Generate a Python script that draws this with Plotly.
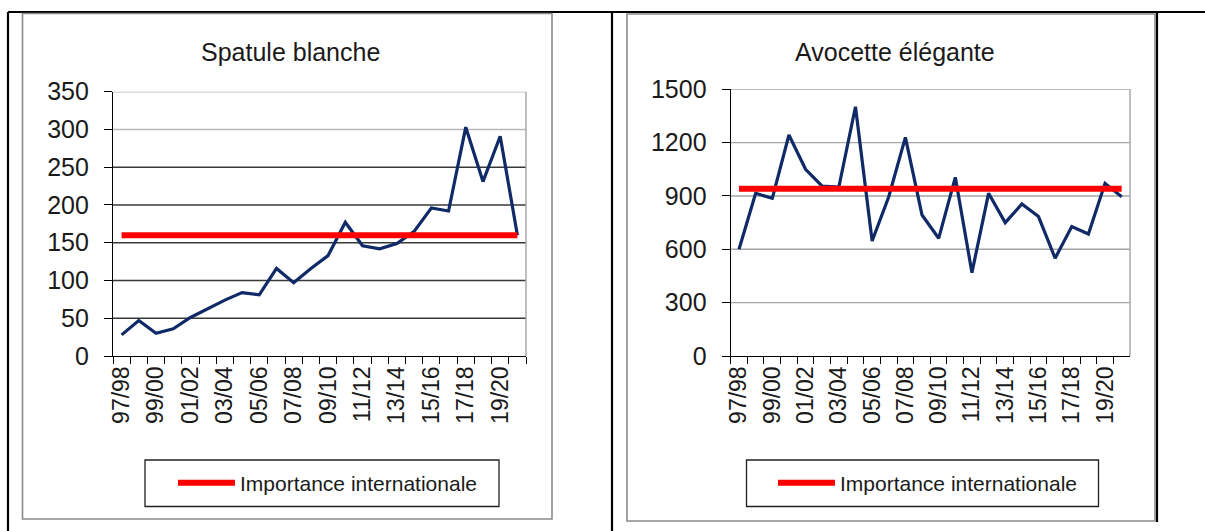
import plotly.graph_objects as go

# ---------------- data ----------------
seasons = ['97/98', '98/99', '99/00', '00/01', '01/02', '02/03', '03/04', '04/05',
           '05/06', '06/07', '07/08', '08/09', '09/10', '10/11', '11/12', '12/13',
           '13/14', '14/15', '15/16', '16/17', '17/18', '18/19', '19/20', '20/21']
tick_labels = ['97/98', '', '99/00', '', '01/02', '', '03/04', '', '05/06', '', '07/08', '',
               '09/10', '', '11/12', '', '13/14', '', '15/16', '', '17/18', '', '19/20', '']

spatule = [28, 47, 30, 36, 51, 63, 74, 84, 81, 116, 97, 116,
           133, 177, 146, 142, 149, 165, 196, 192, 303, 231, 291, 160]
spatule_seuil = [160, 160, 160, 160, 160, 160, 160, 160, 160, 160, 160, 160,
                 160, 160, 160, 160, 160, 160, 160, 160, 160, 160, 160, 160]

avocette = [600, 915, 887, 1243, 1050, 955, 950, 1402, 647, 896, 1230, 793,
            662, 1005, 469, 915, 750, 855, 784, 550, 728, 686, 971, 896]
avocette_seuil = [940, 940, 940, 940, 940, 940, 940, 940, 940, 940, 940, 940,
                  940, 940, 940, 940, 940, 940, 940, 940, 940, 940, 940, 940]

spatule_yticks = [0, 50, 100, 150, 200, 250, 300, 350]
avocette_yticks = [0, 300, 600, 900, 1200, 1500]

titles = ['Spatule blanche', 'Avocette élégante']
legend_name = 'Importance internationale'

# ---------------- style ----------------
W, H = 1205, 531
FONT = 'Arial, Liberation Sans, sans-serif'
TXT = '#1a1a1a'
NAVY = '#0f2a66'
RED = '#ff0000'


def px(x):
    return x / W


def py(y):
    return 1 - y / H


fig = go.Figure()

fig.add_trace(go.Scatter(x=seasons, y=spatule, xaxis='x', yaxis='y', mode='lines',
                         line=dict(color=NAVY, width=3.2), showlegend=False,
                         name='Spatule blanche'))
fig.add_trace(go.Scatter(x=seasons, y=spatule_seuil, xaxis='x', yaxis='y', mode='lines',
                         line=dict(color=RED, width=6), name=legend_name,
                         legend='legend'))
fig.add_trace(go.Scatter(x=seasons, y=avocette, xaxis='x2', yaxis='y2', mode='lines',
                         line=dict(color=NAVY, width=3.2), showlegend=False,
                         name='Avocette élégante'))
fig.add_trace(go.Scatter(x=seasons, y=avocette_seuil, xaxis='x2', yaxis='y2', mode='lines',
                         line=dict(color=RED, width=6), name=legend_name,
                         legend='legend2'))


def xaxis_cfg(domain, anchor):
    return dict(domain=domain, anchor=anchor, type='category',
                categoryorder='array', categoryarray=seasons,
                tickmode='array', tickvals=seasons, ticktext=tick_labels,
                tickson='boundaries', ticks='outside', ticklen=7, tickwidth=1,
                tickcolor='black', showline=True, linecolor='black', linewidth=1.3,
                showgrid=False, tickangle=-90, range=[-0.5, len(seasons) - 0.5],
                automargin=False,
                tickfont=dict(family=FONT, size=23, color=TXT), fixedrange=True)


def yaxis_cfg(domain, anchor, rng, tickvals):
    return dict(domain=domain, anchor=anchor, range=rng,
                tickmode='array', tickvals=tickvals,
                ticks='outside', ticklen=8, tickwidth=1, tickcolor='black',
                showline=True, linecolor='black', linewidth=1.3,
                showgrid=False, zeroline=False, ticklabelstandoff=10,
                automargin=False,
                tickfont=dict(family=FONT, size=25, color=TXT), fixedrange=True)


shapes = []
# gridlines (drawn as shapes so each can carry its own tone)
for v in spatule_yticks[1:]:
    col = '#b8b8b8' if v >= 300 else '#383838'
    shapes.append(dict(type='line', xref='x domain', yref='y', x0=0, x1=1, y0=v, y1=v,
                       line=dict(color=col, width=1.4), layer='below'))
for v in avocette_yticks[1:]:
    shapes.append(dict(type='line', xref='x2 domain', yref='y2', x0=0, x1=1, y0=v, y1=v,
                       line=dict(color='#a6a6a6', width=1.4), layer='below'))
# right plot-area borders (grey)
for ax in ['', '2']:
    shapes.append(dict(type='line', xref='x%s domain' % ax, yref='y%s domain' % ax,
                       x0=1, x1=1, y0=0, y1=1, line=dict(color='#a8a8a8', width=1.5),
                       layer='below'))
# table borders
for (x0, y0, x1, y1) in [(8, 12, 1205, 12), (8, 12, 8, 531), (612, 12, 612, 531),
                         (1157, 12, 1157, 522)]:
    shapes.append(dict(type='line', xref='paper', yref='paper', x0=px(x0), y0=py(y0),
                       x1=px(x1), y1=py(y1), line=dict(color='black', width=2.2)))
# chart frames
for (x0, y0, x1, y1) in [(22.5, 13.5, 552, 519), (627, 14, 1155, 521)]:
    shapes.append(dict(type='rect', xref='paper', yref='paper', x0=px(x0), y0=py(y0),
                       x1=px(x1), y1=py(y1), line=dict(color='#8a8a8a', width=1.6)))
# legend boxes
for (x0, y0, x1, y1) in [(145, 460, 499, 506.5), (746.5, 460, 1098.5, 506.5)]:
    shapes.append(dict(type='rect', xref='paper', yref='paper', x0=px(x0), y0=py(y0),
                       x1=px(x1), y1=py(y1), line=dict(color='#202020', width=1.3)))

annotations = [
    dict(text=titles[0], xref='paper', yref='paper', x=px(290), y=py(52),
         xanchor='center', yanchor='middle', showarrow=False,
         font=dict(family=FONT, size=25, color=TXT)),
    dict(text=titles[1], xref='paper', yref='paper', x=px(895), y=py(52),
         xanchor='center', yanchor='middle', showarrow=False,
         font=dict(family=FONT, size=25, color=TXT)),
]

legend_common = dict(xanchor='left', yanchor='middle', bgcolor='rgba(0,0,0,0)',
                     borderwidth=0, itemwidth=57,
                     font=dict(family=FONT, size=21, color=TXT),
                     itemclick=False, itemdoubleclick=False)

fig.update_layout(
    width=W, height=H, autosize=False,
    margin=dict(l=0, r=0, t=0, b=0, pad=0, autoexpand=False),
    paper_bgcolor='white', plot_bgcolor='white',
    xaxis=xaxis_cfg([px(113), px(526)], 'y'),
    yaxis=yaxis_cfg([py(356), py(91.7)], 'x', [0, 350], spatule_yticks),
    xaxis2=xaxis_cfg([px(730.7), px(1130)], 'y2'),
    yaxis2=yaxis_cfg([py(356), py(89.3)], 'x2', [0, 1500], avocette_yticks),
    legend=dict(x=px(173), y=py(483), **legend_common),
    legend2=dict(x=px(773), y=py(483), **legend_common),
    shapes=shapes,
    annotations=annotations,
)

fig.write_html('out.html', config={'displayModeBar': False, 'responsive': False},
               post_script="document.body.style.margin='0px';")
